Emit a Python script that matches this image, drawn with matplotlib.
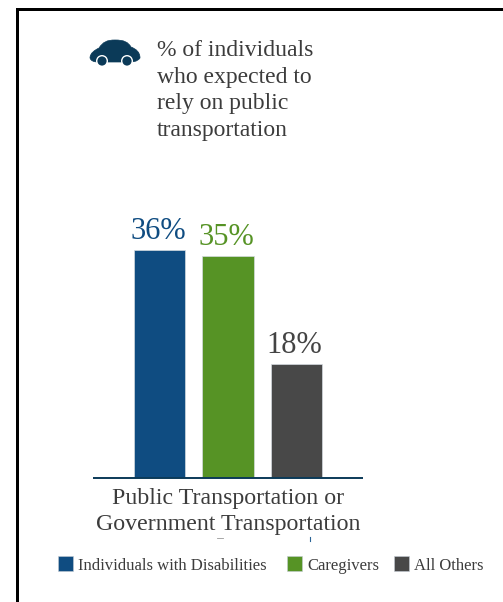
import matplotlib
matplotlib.use("Agg")
import matplotlib.pyplot as plt
from matplotlib.patches import Circle, PathPatch, Rectangle
from matplotlib.path import Path

W, H = 503, 602

groups = ["Individuals with Disabilities", "Caregivers", "All Others"]
values = [36, 35, 18]
value_labels = ["36%", "35%", "18%"]
colors = ["#0f4c81", "#569325", "#484848"]
category = "Public Transportation or\nGovernment Transportation"
heading = "% of individuals\nwho expected to\nrely on public\ntransportation"

plt.rcParams["font.family"] = ["Liberation Serif", "DejaVu Serif"]

fig = plt.figure(figsize=(W / 100, H / 100), dpi=100)

# page layer in pixel coordinates, y going down
page = fig.add_axes([0, 0, 1, 1])
page.set_xlim(0, W)
page.set_ylim(H, 0)
page.axis("off")

# open frame running off the right and bottom edges
page.add_patch(Rectangle((16, 8), 3, H, color="#000000", lw=0))
page.add_patch(Rectangle((16, 8), W, 3, color="#000000", lw=0))

# car icon
navy = "#0b3a58"
verts = [
    (90, 58), (90, 53), (95, 50), (99, 48),
    (103, 42), (107, 40), (115, 40),
    (124, 40), (128, 42), (131, 47),
    (136, 49), (140, 52), (140, 58),
    (137, 62), (133, 62), (125, 62),
    (110, 62), (105, 62), (98, 62),
    (94, 62), (91, 61), (90, 58),
]
codes = [Path.MOVETO] + [Path.CURVE4] * 21
page.add_patch(PathPatch(Path(verts, codes), facecolor=navy, edgecolor=navy, lw=0.5))
for cx in (102, 127):
    page.add_patch(Circle((cx, 61), 6, facecolor="white", lw=0))
    page.add_patch(Circle((cx, 61), 4.6, facecolor=navy, lw=0))

page.text(157, 40.5, heading, fontsize=17, color="#3c3c3c", va="top", ha="left",
          linespacing=1.34)

# stray specks under the category label
page.plot([310, 310], [537, 541], color="#2a6496", lw=0.8)
page.plot([217, 223], [537.5, 537.5], color="#999999", lw=0.6)

# bars
ax = fig.add_axes([93 / W, 1 - 478 / H, 270 / W, 300 / H])
ax.patch.set_alpha(0)
ax.set_xlim(-0.985, 2.985)
ax.set_ylim(0, 300 / (228 / 36))
positions = range(len(values))
ax.bar(positions, values, width=0.75, color=colors, edgecolor="#d5dbe0", linewidth=0.5)
for pos, val, lab, col in zip(positions, values, value_labels, colors):
    ax.annotate(lab, (pos, val), xytext=(-1, 3), textcoords="offset points", ha="center",
                va="bottom", fontsize=22, color=col if col != "#484848" else "#444444")

for side in ("top", "left", "right"):
    ax.spines[side].set_visible(False)
ax.spines["bottom"].set_color("#0b3a58")
ax.spines["bottom"].set_linewidth(1.4)
ax.spines["bottom"].set_capstyle("butt")
ax.set_yticks([])
ax.set_xticks([1])
ax.set_xticklabels([category], fontsize=17.2, color="#3c3c3c", linespacing=1.3)
ax.tick_params(axis="x", length=0, pad=7)

# legend entries have uneven gaps, so each swatch gets its own x
swatch_x = [58, 287, 394]
for x, name, col in zip(swatch_x, groups, colors):
    page.add_patch(Rectangle((x, 555.5), 15.5, 15.5, facecolor=col, edgecolor="#c4ccd4", lw=0.4))
    page.text(x + 20, 565.5, name, fontsize=12, color="#3c3c3c", va="center", ha="left")

fig.savefig("out.png", dpi=100, facecolor="white")
